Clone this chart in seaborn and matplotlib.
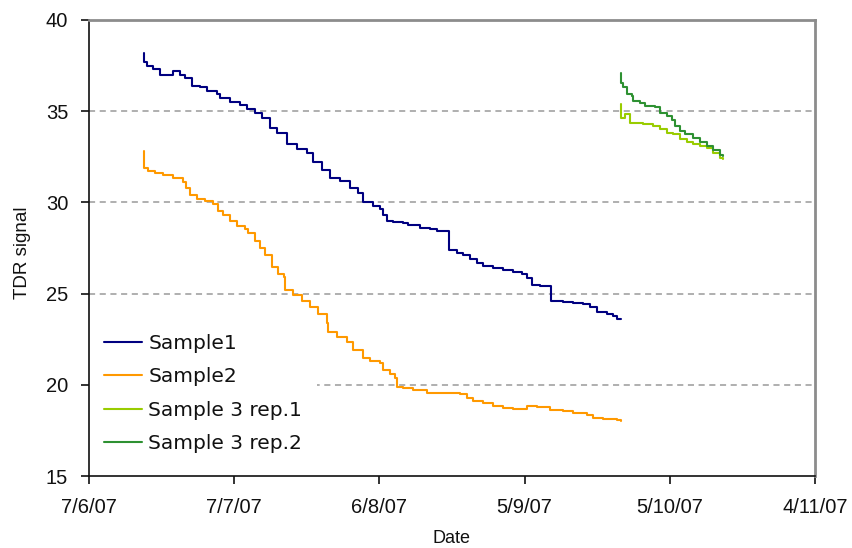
import pandas as pd
import matplotlib
matplotlib.use("Agg")
import matplotlib.pyplot as plt
from matplotlib.lines import Line2D
import seaborn as sns

# Logging start: elapsed times below are in days after this date
start_date = "2007-06-07"

series_names = ["Sample1", "Sample2", "Sample 3 rep.1", "Sample 3 rep.2"]
series_colors = ["#000080", "#FF9900", "#99CC00", "#2E9132"]

s1_days = [11.4, 11.4, 12.0, 13.2, 14.7, 17.4, 18.8, 19.8, 21.3, 22.9, 24.4, 26.4,
           27.1, 29.1, 31.2, 32.6, 34.3, 35.7, 37.4, 38.8, 40.9, 43.0, 45.0, 46.3,
           48.1, 49.8, 51.9, 53.9, 55.6, 56.6, 58.7, 60.1, 60.7, 61.6, 62.8, 64.9,
           65.9, 68.4, 70.5, 71.9, 74.4, 76.0, 77.3, 78.7, 80.2, 81.4, 83.5, 85.5,
           87.6, 89.5, 90.5, 91.5, 93.2, 95.5, 97.9, 100.0, 102.1, 103.5, 105.0,
           107.0, 108.3, 109.1, 109.9]
s1_tdr = [38.2, 37.7, 37.5, 37.3, 37.0, 37.2, 37.0, 36.8, 36.4, 36.3, 36.1, 35.95,
          35.7, 35.5, 35.35, 35.1, 34.9, 34.6, 34.1, 33.8, 33.2, 32.95, 32.7, 32.2,
          31.75, 31.35, 31.2, 30.8, 30.5, 30.0, 29.8, 29.65, 29.3, 29.0, 28.95, 28.85,
          28.75, 28.6, 28.55, 28.45, 27.4, 27.25, 27.1, 26.9, 26.7, 26.5, 26.4, 26.3,
          26.2, 26.1, 25.85, 25.45, 25.4, 24.6, 24.55, 24.5, 24.45, 24.25, 24.0,
          23.9, 23.75, 23.6, 23.6]

s2_days = [11.4, 11.4, 12.2, 13.6, 15.3, 17.4, 19.4, 20.0, 20.9, 22.3, 24.0, 25.6,
           26.7, 27.7, 29.1, 30.6, 32.2, 32.9, 34.3, 35.3, 36.4, 37.8, 39.0, 40.3,
           40.5, 42.1, 44.0, 45.7, 47.3, 49.2, 49.4, 51.2, 53.3, 54.5, 56.6, 58.1,
           60.1, 60.7, 62.2, 63.2, 63.6, 64.9, 66.9, 69.8, 76.7, 78.1, 79.3, 81.4,
           83.5, 85.5, 87.6, 90.5, 92.6, 95.2, 97.9, 100.0, 102.9, 104.1, 106.2,
           109.1, 109.9]
s2_tdr = [32.8, 31.9, 31.7, 31.6, 31.5, 31.35, 31.1, 30.8, 30.4, 30.2, 30.05, 29.9,
          29.55, 29.3, 29.0, 28.7, 28.55, 28.3, 27.9, 27.5, 27.1, 26.45, 26.1, 25.9,
          25.2, 24.9, 24.6, 24.25, 23.9, 23.4, 22.9, 22.6, 22.35, 21.9, 21.45, 21.3,
          21.2, 20.8, 20.6, 20.4, 19.9, 19.8, 19.7, 19.55, 19.5, 19.3, 19.1, 19.0,
          18.85, 18.75, 18.7, 18.85, 18.8, 18.6, 18.55, 18.45, 18.35, 18.2, 18.15,
          18.05, 18.0]

s3r1_days = [109.9, 109.9, 110.7, 111.8, 114.5, 116.5, 118.0, 119.4, 120.7, 122.1,
             123.6, 124.8, 126.2, 127.7, 128.9, 130.4, 131.0]
s3r1_tdr = [35.4, 34.65, 34.85, 34.35, 34.3, 34.2, 34.05, 33.8, 33.75, 33.45,
            33.3, 33.2, 33.1, 33.0, 32.7, 32.45, 32.4]

s3r2_days = [109.9, 109.9, 110.3, 111.2, 112.2, 112.4, 113.8, 114.9, 116.9, 118.0,
             119.4, 120.5, 121.1, 122.1, 123.1, 124.8, 126.2, 127.7, 128.9, 130.4,
             131.0]
s3r2_tdr = [37.1, 36.55, 36.3, 35.95, 35.85, 35.55, 35.45, 35.3, 35.25, 34.9,
            34.75, 34.5, 34.2, 33.9, 33.75, 33.55, 33.3, 33.1, 32.9, 32.6, 32.55]

x_tick_labels = ["7/6/07", "7/7/07", "6/8/07", "5/9/07", "5/10/07", "4/11/07"]
y_ticks = [15, 20, 25, 30, 35, 40]

# Long-form table of all four records
t0 = pd.Timestamp(start_date)
frames = []
for name, days, vals in zip(series_names,
                            [s1_days, s2_days, s3r1_days, s3r2_days],
                            [s1_tdr, s2_tdr, s3r1_tdr, s3r2_tdr]):
    frames.append(pd.DataFrame({
        "Date": t0 + pd.to_timedelta(days, unit="D"),
        "TDR": vals,
        "Series": name,
    }))
df = pd.concat(frames, ignore_index=True)

sns.set_style("white")
plt.rcParams["font.family"] = ["Liberation Sans", "DejaVu Sans"]

W, H = 852, 548
fig = plt.figure(figsize=(W / 100, H / 100), dpi=100)
ax = fig.add_axes([89 / W, 1 - 476 / H, 726 / W, 456 / H])

sns.lineplot(data=df, x="Date", y="TDR", hue="Series", hue_order=series_names,
             palette=series_colors, estimator=None, sort=False,
             drawstyle="steps-post", linewidth=1.5, legend=False, ax=ax)

tick_dates = pd.to_datetime(x_tick_labels, format="%d/%m/%y")
ax.set_xlim(tick_dates[0], tick_dates[-1])
ax.set_xticks(tick_dates)
ax.set_xticklabels(x_tick_labels)
ax.set_ylim(y_ticks[0], y_ticks[-1])
ax.set_yticks(y_ticks)

ax.grid(False)
for yv in y_ticks[1:-1]:
    ax.axhline(yv, color="#9a9a9a", linewidth=1.1, linestyle=(0, (4, 3)), zorder=0.5)

for side in ("left", "bottom"):
    ax.spines[side].set_color("#111111")
    ax.spines[side].set_linewidth(1.2)
for side in ("top", "right"):
    ax.spines[side].set_color("#8c8c8c")
    ax.spines[side].set_linewidth(2.0)

ax.tick_params(axis="both", which="major", direction="out", length=6, width=1.2,
               color="#111111", labelsize=14.5, labelcolor="#111111")
ax.tick_params(axis="y", pad=9, left=True)
ax.tick_params(axis="x", pad=10, bottom=True)

ax.set_xlabel("Date", fontsize=13, color="#111111")
ax.set_ylabel("TDR signal", fontsize=13.5, color="#111111")
ax.xaxis.set_label_coords(0.5, -0.118)
ax.yaxis.set_label_coords(-0.08, 0.49)

handles = [Line2D([], [], color=c, linewidth=1.5) for c in series_colors]
leg = ax.legend(handles, series_names, loc="upper left",
                bbox_to_anchor=(0.0, 0.345), frameon=True, facecolor="white",
                edgecolor="none", framealpha=1, fancybox=False,
                prop={"family": ["DejaVu Sans"], "size": 14.5},
                handlelength=1.9, handletextpad=0.3, labelspacing=0.72,
                borderpad=0.75, borderaxespad=0)
leg.set_zorder(1.2)
for txt in leg.get_texts():
    txt.set_color("#111111")

fig.savefig("out.png", dpi=100)
